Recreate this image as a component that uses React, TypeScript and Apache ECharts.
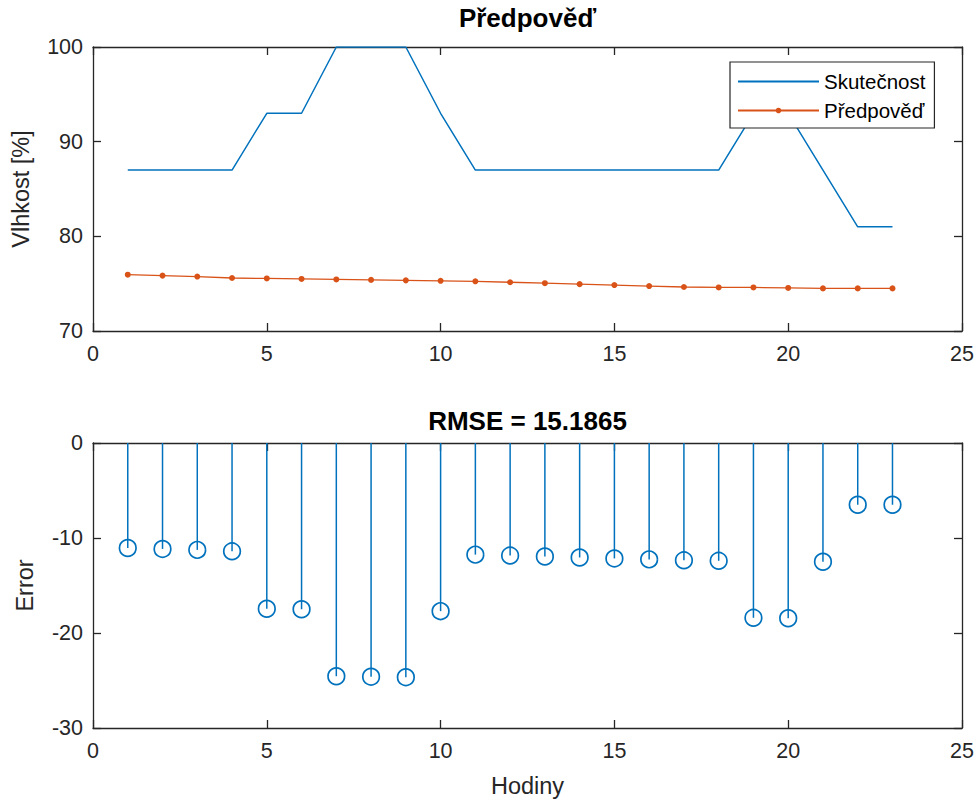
import React, { useEffect, useRef } from "react";
import * as echarts from "echarts";

const hours = [1, 2, 3, 4, 5, 6, 7, 8, 9, 10, 11, 12, 13, 14, 15, 16, 17, 18, 19, 20, 21, 22, 23];
const actual = [87, 87, 87, 87, 93, 93, 100, 100, 100, 93, 87, 87, 87, 87, 87, 87, 87, 87, 93, 93, 87, 81, 81];
const forecast = [75.95, 75.85, 75.75, 75.6, 75.55, 75.5, 75.45, 75.4, 75.35, 75.3, 75.25, 75.15, 75.05, 74.95, 74.85, 74.75, 74.65, 74.6, 74.6, 74.55, 74.5, 74.5, 74.5];
const errors = [-11.05, -11.15, -11.25, -11.4, -17.45, -17.5, -24.55, -24.6, -24.65, -17.7, -11.75, -11.85, -11.95, -12.05, -12.15, -12.25, -12.35, -12.4, -18.4, -18.45, -12.5, -6.5, -6.5];

const titleTop = "Předpověď";
const titleBottom = "RMSE = 15.1865";
const seriesNames = ["Skutečnost", "Předpověď"];

const AX = "#262626";
const BLUE = "#0072BD";
const ORANGE = "#D95319";
const FONT = "'Liberation Sans', Arial, Helvetica, sans-serif";

export default function App() {
  const ref = useRef<HTMLDivElement>(null);
  useEffect(() => {
    if (!ref.current) return;
    const chart = echarts.init(ref.current, null, { renderer: "svg" });
    const tickLabel = { color: AX, fontSize: 21.5, fontFamily: FONT };
    const mkX = (grid: number, pos: "bottom" | "top", labels: boolean, name?: string) => ({
      type: "value",
      gridIndex: grid,
      position: pos,
      min: 0,
      max: 25,
      interval: 5,
      name: name,
      nameLocation: "middle",
      nameGap: 46,
      nameTextStyle: { color: AX, fontSize: 23.5, fontFamily: FONT },
      axisLine: { show: true, onZero: false, lineStyle: { color: AX, width: 1.3 } },
      axisTick: { show: true, inside: true, length: 8, lineStyle: { color: AX, width: 1.3 } },
      axisLabel: { show: labels, ...tickLabel, margin: 12 },
      splitLine: { show: false },
    });
    const mkY = (grid: number, pos: "left" | "right", labels: boolean, min: number, max: number, name?: string, gap?: number) => ({
      type: "value",
      gridIndex: grid,
      position: pos,
      min,
      max,
      interval: 10,
      name: name,
      nameLocation: "middle",
      nameGap: gap,
      nameRotate: 90,
      nameTextStyle: { color: AX, fontSize: 23.5, fontFamily: FONT },
      axisLine: { show: true, onZero: false, lineStyle: { color: AX, width: 1.3 } },
      axisTick: { show: true, inside: true, length: 8, lineStyle: { color: AX, width: 1.3 } },
      axisLabel: { show: labels, ...tickLabel, margin: 10 },
      splitLine: { show: false },
    });

    chart.setOption({
      animation: false,
      backgroundColor: "#ffffff",
      textStyle: { fontFamily: FONT },
      title: [
        {
          text: titleTop,
          left: 527.5,
          top: 5,
          textAlign: "center",
          padding: 0,
          textStyle: { color: "#000", fontSize: 26, fontWeight: "bold", fontFamily: FONT },
        },
        {
          text: titleBottom,
          left: 527.5,
          top: 408,
          textAlign: "center",
          padding: 0,
          textStyle: { color: "#000", fontSize: 26, fontWeight: "bold", fontFamily: FONT },
        },
      ],
      legend: {
        data: [
          { name: seriesNames[0], itemStyle: { opacity: 0 } },
          { name: seriesNames[1] },
        ],
        left: 730,
        top: 62,
        orient: "vertical",
        itemWidth: 81,
        itemHeight: 7,
        itemGap: 8,
        padding: [9, 9, 7, 7],
        borderColor: AX,
        borderWidth: 1.2,
        borderRadius: 0,
        backgroundColor: "#ffffff",
        textStyle: { color: "#000", fontSize: 20.5, fontFamily: FONT },
      },
      grid: [
        { left: 93, top: 47, width: 869, height: 284 },
        { left: 93, top: 443, width: 869, height: 285 },
      ],
      xAxis: [
        mkX(0, "bottom", true),
        mkX(0, "top", false),
        mkX(1, "bottom", true, "Hodiny"),
        mkX(1, "top", false),
      ],
      yAxis: [
        mkY(0, "left", true, 70, 100, "Vlhkost [%]", 60),
        mkY(0, "right", false, 70, 100),
        mkY(1, "left", true, -30, 0, "Error", 56),
        mkY(1, "right", false, -30, 0),
      ],
      series: [
        {
          name: seriesNames[0],
          type: "line",
          xAxisIndex: 0,
          yAxisIndex: 0,
          data: hours.map((h, i) => [h, actual[i]]),
          symbol: "none",
          lineStyle: { color: BLUE, width: 1.5 },
          itemStyle: { color: BLUE },
          z: 3,
        },
        {
          name: seriesNames[1],
          type: "line",
          xAxisIndex: 0,
          yAxisIndex: 0,
          data: hours.map((h, i) => [h, forecast[i]]),
          symbol: "circle",
          symbolSize: 6,
          showSymbol: true,
          lineStyle: { color: ORANGE, width: 1.3 },
          itemStyle: { color: ORANGE },
          z: 3,
        },
        {
          type: "custom",
          xAxisIndex: 2,
          yAxisIndex: 2,
          data: hours.map((h, i) => [h, errors[i]]),
          renderItem: (params: any, api: any) => {
            const x = api.value(0);
            const y = api.value(1);
            const p0 = api.coord([x, 0]);
            const p1 = api.coord([x, y]);
            return {
              type: "group",
              children: [
                {
                  type: "line",
                  shape: { x1: p0[0], y1: p0[1], x2: p1[0], y2: p1[1] },
                  style: { stroke: BLUE, lineWidth: 1.5 },
                },
                {
                  type: "circle",
                  shape: { cx: p1[0], cy: p1[1], r: 8.3 },
                  style: { fill: "none", stroke: BLUE, lineWidth: 1.7 },
                },
              ],
            };
          },
        },
      ],
    });
    return () => chart.dispose();
  }, []);
  return (
    <div
      ref={ref}
      style={{ position: "fixed", left: 0, top: 0, width: 979, height: 805, background: "#fff" }}
    />
  );
}
